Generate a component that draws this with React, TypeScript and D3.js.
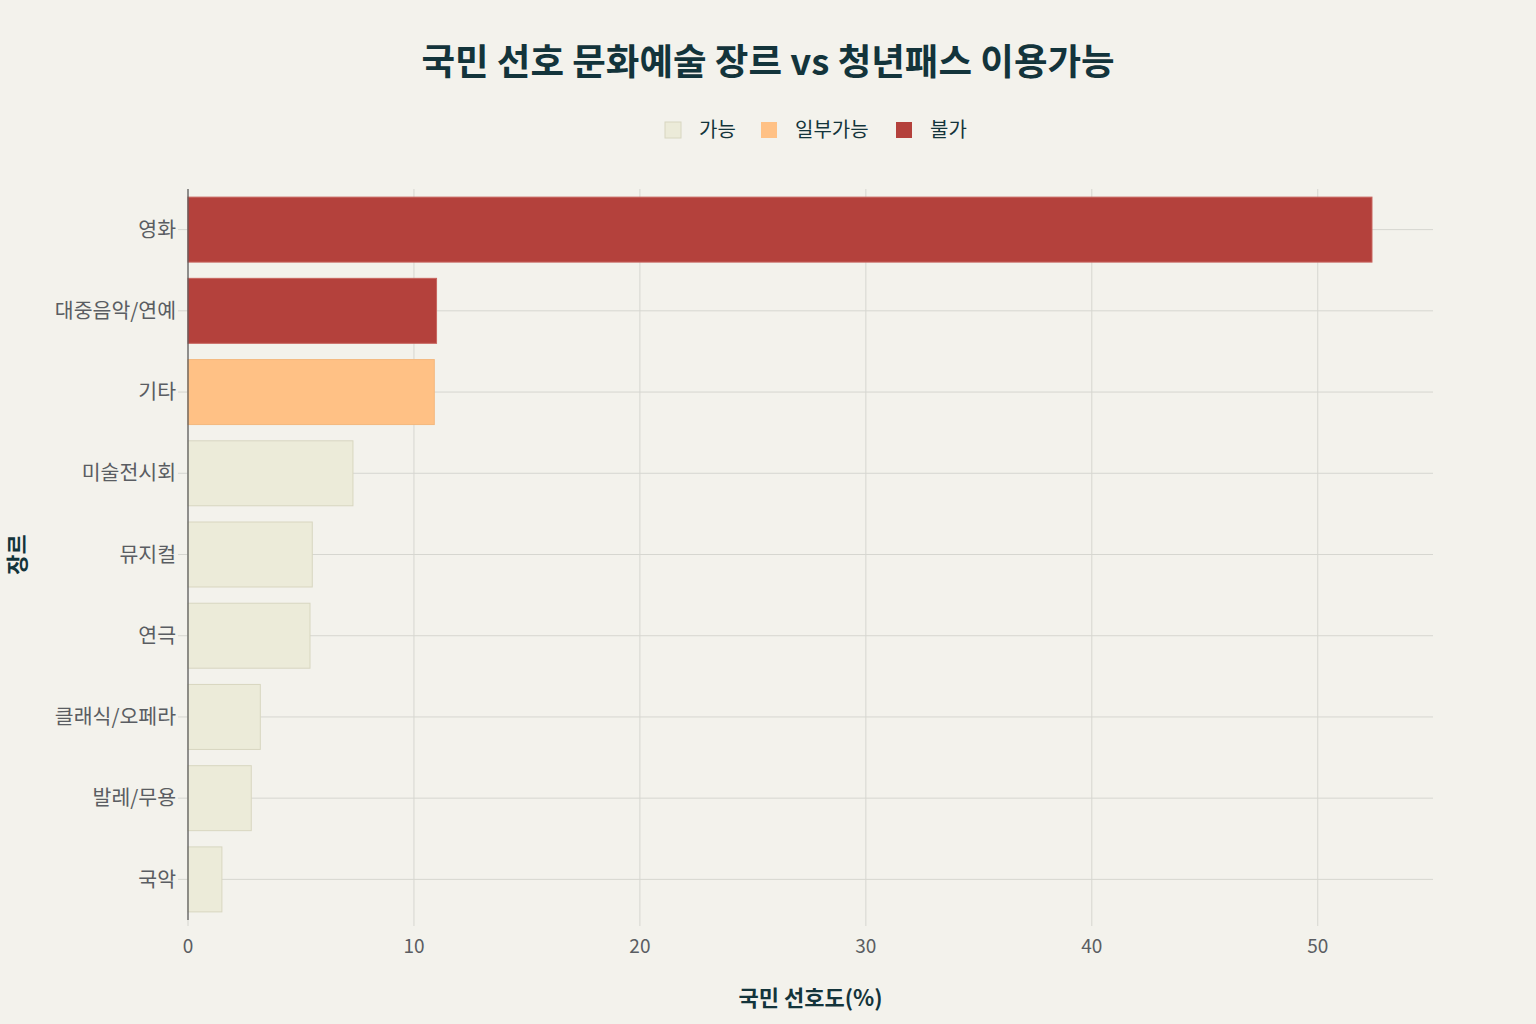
import * as d3 from "d3";
import { useEffect, useRef } from "react";

const genres = ["영화", "대중음악/연예", "기타", "미술전시회", "뮤지컬", "연극", "클래식/오페라", "발레/무용", "국악"];
const preference = [52.4, 11.0, 10.9, 7.3, 5.5, 5.4, 3.2, 2.8, 1.5];
const availability = ["불가", "불가", "일부가능", "가능", "가능", "가능", "가능", "가능", "가능"];
const legendKeys = ["가능", "일부가능", "불가"];
const legendColors = ["#ecebd9", "#ffc185", "#b4413c"];
const xTicks = [0, 10, 20, 30, 40, 50];

const W = 1536;
const H = 1024;
const FONT = "'Noto Sans CJK KR', 'Noto Sans', sans-serif";

export default function App() {
  const ref = useRef<SVGSVGElement | null>(null);

  useEffect(() => {
    if (!ref.current) return;
    const svg = d3.select(ref.current);
    svg.selectAll("*").remove();

    const margin = { top: 189, right: 103, bottom: 104, left: 188 };
    const innerW = W - margin.left - margin.right;
    const innerH = H - margin.top - margin.bottom;

    svg.append("rect").attr("width", W).attr("height", H).attr("fill", "#f3f2ec");

    const x = d3.scaleLinear().domain([0, 55.1]).range([0, innerW]);
    const y = d3.scaleBand<string>().domain(genres).range([0, innerH]).paddingInner(0.2).paddingOuter(0.1);
    const color = d3.scaleOrdinal<string, string>().domain(legendKeys).range(legendColors);
    const stroke = d3.scaleOrdinal<string, string>().domain(legendKeys).range(["#d8d6c0", "#f4b87e", "#c8655f"]);

    const g = svg.append("g").attr("transform", `translate(${margin.left},${margin.top})`);

    // grid
    g.append("g")
      .selectAll("line")
      .data(xTicks)
      .join("line")
      .attr("x1", d => x(d))
      .attr("x2", d => x(d))
      .attr("y1", 0)
      .attr("y2", innerH + 6)
      .attr("stroke", "#d6d6d0")
      .attr("stroke-width", 1);

    g.append("g")
      .selectAll("line")
      .data(genres)
      .join("line")
      .attr("x1", -10)
      .attr("x2", innerW)
      .attr("y1", d => (y(d) ?? 0) + y.bandwidth() / 2)
      .attr("y2", d => (y(d) ?? 0) + y.bandwidth() / 2)
      .attr("stroke", "#d6d6d0")
      .attr("stroke-width", 1);

    // bars
    g.append("g")
      .selectAll("rect")
      .data(genres)
      .join("rect")
      .attr("x", 0)
      .attr("y", d => y(d) ?? 0)
      .attr("width", (_, i) => x(preference[i]))
      .attr("height", y.bandwidth())
      .attr("fill", (_, i) => color(availability[i]))
      .attr("stroke", (_, i) => stroke(availability[i]))
      .attr("stroke-width", 1);

    // y axis line
    g.append("line")
      .attr("x1", 0).attr("x2", 0)
      .attr("y1", 0).attr("y2", innerH)
      .attr("stroke", "#555")
      .attr("stroke-width", 1.2);

    // y labels
    g.append("g")
      .selectAll("text")
      .data(genres)
      .join("text")
      .attr("x", -12)
      .attr("y", d => (y(d) ?? 0) + y.bandwidth() / 2)
      .attr("dy", "0.35em")
      .attr("text-anchor", "end")
      .attr("font-family", FONT)
      .attr("font-size", 20.5)
      .attr("fill", "#5a5d62")
      .text(d => d);

    // x labels
    g.append("g")
      .selectAll("text")
      .data(xTicks)
      .join("text")
      .attr("x", d => x(d))
      .attr("y", innerH + 33)
      .attr("text-anchor", "middle")
      .attr("font-family", FONT)
      .attr("font-size", 19)
      .attr("fill", "#5a5d62")
      .text(d => d3.format("d")(d));

    // title
    svg.append("text")
      .attr("x", W / 2)
      .attr("y", 75)
      .attr("text-anchor", "middle")
      .attr("font-family", FONT)
      .attr("font-weight", 700)
      .attr("font-size", 36.5)
      .attr("fill", "#13343b")
      .text("국민 선호 문화예술 장르 vs 청년패스 이용가능");

    // axis titles
    svg.append("text")
      .attr("x", margin.left + innerW / 2)
      .attr("y", 1006)
      .attr("text-anchor", "middle")
      .attr("font-family", FONT)
      .attr("font-weight", 700)
      .attr("font-size", 22)
      .attr("fill", "#13343b")
      .text("국민 선호도(%)");

    svg.append("text")
      .attr("transform", `translate(25,${margin.top + innerH / 2}) rotate(-90)`)
      .attr("text-anchor", "middle")
      .attr("font-family", FONT)
      .attr("font-weight", 700)
      .attr("font-size", 22)
      .attr("fill", "#13343b")
      .text("장르");

    // legend
    const legendX = [665, 761, 896];
    const lg = svg.append("g");
    legendKeys.forEach((k, i) => {
      lg.append("rect")
        .attr("x", legendX[i])
        .attr("y", 122)
        .attr("width", 16)
        .attr("height", 16)
        .attr("fill", legendColors[i])
        .attr("stroke", i === 0 ? "#d8d6c0" : "none");
      lg.append("text")
        .attr("x", legendX[i] + 34)
        .attr("y", 130)
        .attr("dy", "0.35em")
        .attr("font-family", FONT)
        .attr("font-size", 20)
        .attr("fill", "#13343b")
        .text(k);
    });
  }, []);

  return (
    <div style={{ position: "absolute", top: 0, left: 0 }}>
      <svg ref={ref} width={W} height={H} style={{ display: "block" }} />
    </div>
  );
}
